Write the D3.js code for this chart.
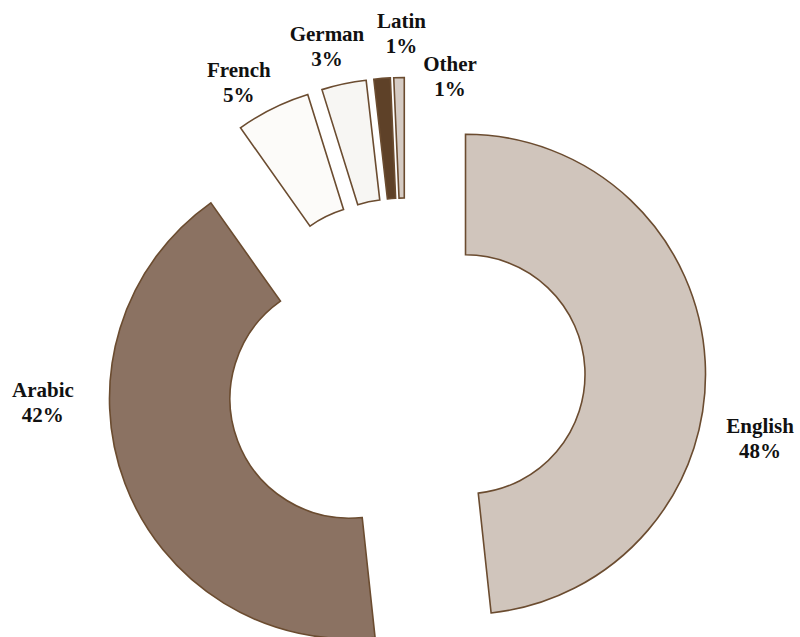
<!DOCTYPE html>
<html>
<head>
<meta charset="utf-8">
<script src="https://cdn.jsdelivr.net/npm/d3@7"></script>
<style>
  html, body { margin: 0; padding: 0; background: #ffffff; }
  svg { display: block; }
</style>
</head>
<body>
<svg id="chart" width="800" height="637"></svg>
<script>
// ---- data ----
const categories = ["English", "Arabic", "French", "German", "Latin", "Other"];
const values = [48.3, 41.9, 5.0, 3.0, 1.1, 0.7];
const percentLabels = ["48%", "42%", "5%", "3%", "1%", "1%"];
const colors = ["#d0c5bc", "#8b7262", "#fcfbf9", "#f7f6f3", "#5e4128", "#d6ccc4"];

// ---- layout ----
const W = 800, H = 637;
const cx = 405.6, cy = 377.5;
const outerR = 240, innerR = 119.5, explode = 60, labelR = 345;
const labelNudge = [[10, 79], [-40, -96.5], [-14, 14], [-7.6, 7], [23, 0.4], [52, 44]];

const svg = d3.select("#chart");
const g = svg.append("g").attr("transform", `translate(${cx},${cy})`);

const data = categories.map((c, i) => ({ name: c, value: values[i], pct: percentLabels[i], color: colors[i], i }));
const pie = d3.pie().value(d => d.value).sort(null);
const arcs = pie(data);
const arc = d3.arc().innerRadius(innerR).outerRadius(outerR);

const mid = d => (d.startAngle + d.endAngle) / 2;

g.selectAll("path.slice")
  .data(arcs)
  .join("path")
  .attr("class", "slice")
  .attr("transform", d => `translate(${explode * Math.sin(mid(d))},${-explode * Math.cos(mid(d))})`)
  .attr("d", arc)
  .attr("fill", d => d.data.color)
  .attr("stroke", "#6b4c30")
  .attr("stroke-width", 1.6)
  .attr("stroke-linejoin", "miter");

const labels = g.selectAll("text.lbl")
  .data(arcs)
  .join("text")
  .attr("class", "lbl")
  .attr("text-anchor", "middle")
  .attr("font-family", "'Liberation Serif', 'Times New Roman', serif")
  .attr("font-weight", "bold")
  .attr("font-size", 21)
  .attr("fill", "#111111")
  .attr("transform", d => {
    const a = mid(d), n = labelNudge[d.data.i];
    return `translate(${labelR * Math.sin(a) + n[0]},${-labelR * Math.cos(a) + n[1]})`;
  });

labels.append("tspan").attr("x", 0).attr("y", -5.5).text(d => d.data.name);
labels.append("tspan").attr("x", 0).attr("y", 19.5).text(d => d.data.pct);
</script>
</body>
</html>
